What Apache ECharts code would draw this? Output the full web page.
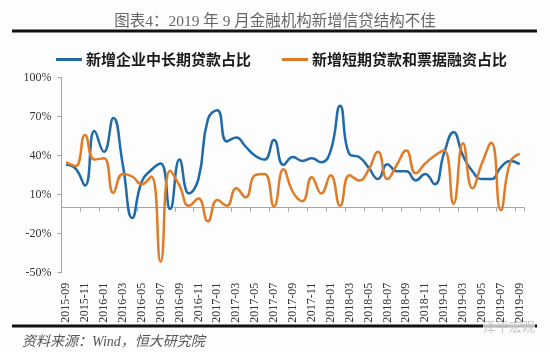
<!DOCTYPE html>
<html style="height: 100%">
<head>
    <meta charset="UTF-8">
    <title>金融机构新增信贷结构</title>
    <script src="https://cdn.jsdelivr.net/npm/echarts@6/dist/echarts.min.js"></script>
</head>
<body style="height: 100%; margin: 0; background: #fdfdfd">
    <div id="main" style="width: 550px; height: 352px;"></div>
    <script>
        // 月份 2015-09 ~ 2019-09
        var months = [
            '2015-09', '2015-10', '2015-11', '2015-12',
            '2016-01', '2016-02', '2016-03', '2016-04', '2016-05', '2016-06',
            '2016-07', '2016-08', '2016-09', '2016-10', '2016-11', '2016-12',
            '2017-01', '2017-02', '2017-03', '2017-04', '2017-05', '2017-06',
            '2017-07', '2017-08', '2017-09', '2017-10', '2017-11', '2017-12',
            '2018-01', '2018-02', '2018-03', '2018-04', '2018-05', '2018-06',
            '2018-07', '2018-08', '2018-09', '2018-10', '2018-11', '2018-12',
            '2019-01', '2019-02', '2019-03', '2019-04', '2019-05', '2019-06',
            '2019-07', '2019-08', '2019-09'
        ];
        // 新增企业中长期贷款占比 (%)
        var longTerm = [
            33, 30, 17, 59, 43, 69, 33, -8, 20, 29,
            34, -1, 37, 11, 22, 68, 75, 51, 54, 47,
            40, 37, 52, 33, 39, 36, 38, 35, 44, 78.5,
            41, 39, 31, 22, 33.5, 28, 28, 21, 26, 18,
            42, 58, 40, 28, 22, 22, 31, 36, 33.5
        ];
        // 新增短期贷款和票据融资占比 (%)
        var shortTerm = [
            35, 32, 56, 37, 38, 11.5, 26, 24, 18, 24,
            -41.5, 28.5, 17, 1.5, 7, -10.5, 6, 1.5, 15, 8,
            25, 26, 1, 29.5, 12, 5, 23.5, 11, 25, 1.5,
            25, 21, 29, 43, 22, 33, 44, 26.5, 34, 40,
            44, 3, 49.5, 15, 34, 50, -2, 35, 41.5
        ];
        var yTicks = [-50, -20, 10, 40, 70, 100];

        var serif = '"Liberation Serif", "Noto Sans CJK SC"';
        var myChart = echarts.init(document.getElementById('main'));

        var option = {
            backgroundColor: '#fdfdfd',
            animation: false,
            grid: { left: 61.4, right: 25.6, top: 77.7, bottom: 79.3 },
            legend: {
                left: 51,
                top: 47,
                itemWidth: 26,
                itemHeight: 3,
                itemGap: 31,
                icon: 'rect',
                textStyle: {
                    fontFamily: '"Noto Sans CJK SC"',
                    fontWeight: 'bold',
                    fontSize: 15,
                    color: '#1a1a1a',
                    padding: [0, 0, 0, -1]
                },
                data: ['新增企业中长期贷款占比', '新增短期贷款和票据融资占比']
            },
            xAxis: [
                {
                    type: 'category',
                    data: months,
                    boundaryGap: true,
                    position: 'bottom',
                    axisLine: { show: false, onZero: false },
                    axisTick: { show: false },
                    axisLabel: {
                        interval: 1,
                        rotate: 90,
                        margin: 10,
                        fontFamily: serif,
                        fontSize: 12,
                        color: '#333'
                    }
                },
                {
                    type: 'category',
                    data: months,
                    boundaryGap: true,
                    position: 'bottom',
                    axisLine: { show: true, onZero: true, lineStyle: { color: '#a6a6a6', width: 1 } },
                    axisTick: { show: true, interval: 1, length: 4, lineStyle: { color: '#a6a6a6' } },
                    axisLabel: { show: false }
                }
            ],
            yAxis: {
                type: 'value',
                min: -50,
                max: 100,
                axisLine: { show: true, lineStyle: { color: '#a6a6a6', width: 1 } },
                axisTick: { show: true, length: 4, customValues: yTicks, lineStyle: { color: '#a6a6a6' } },
                splitLine: { show: false },
                axisLabel: {
                    customValues: yTicks,
                    margin: 10,
                    formatter: '{value}%',
                    fontFamily: serif,
                    fontSize: 12,
                    color: '#333'
                }
            },
            series: [
                {
                    name: '新增企业中长期贷款占比',
                    type: 'line',
                    xAxisIndex: 0,
                    data: longTerm,
                    smooth: 0.5,
                    showSymbol: false,
                    lineStyle: { width: 2.5, color: '#1f6aa8' },
                    itemStyle: { color: '#1f6aa8' }
                },
                {
                    name: '新增短期贷款和票据融资占比',
                    type: 'line',
                    xAxisIndex: 0,
                    data: shortTerm,
                    smooth: 0.5,
                    showSymbol: false,
                    lineStyle: { width: 2.5, color: '#e07b27' },
                    itemStyle: { color: '#e07b27' }
                }
            ],
            graphic: [
                {
                    type: 'text',
                    style: {
                        x: 275, y: 22,
                        text: '图表4：2019 年 9 月金融机构新增信贷结构不佳',
                        textAlign: 'center',
                        textVerticalAlign: 'middle',
                        font: '15.5px ' + serif,
                        fill: '#666'
                    }
                },
                { type: 'rect', shape: { x: 12, y: 29.5, width: 525, height: 3 }, style: { fill: '#111' } },
                { type: 'rect', shape: { x: 12, y: 324.5, width: 525, height: 3 }, style: { fill: '#111' } },
                {
                    type: 'text',
                    style: {
                        x: 22, y: 342,
                        text: '资料来源：Wind，恒大研究院',
                        textVerticalAlign: 'middle',
                        font: 'italic 14px ' + serif,
                        fill: '#555'
                    }
                },
                {
                    type: 'text',
                    style: {
                        x: 535, y: 326,
                        text: '泽平宏观',
                        textAlign: 'right',
                        textVerticalAlign: 'middle',
                        font: '13px "Noto Sans CJK SC"',
                        fill: '#c8c8c8',
                        backgroundColor: 'rgba(253,253,253,0.7)'
                    }
                }
            ]
        };

        myChart.setOption(option);
    </script>
</body>
</html>
